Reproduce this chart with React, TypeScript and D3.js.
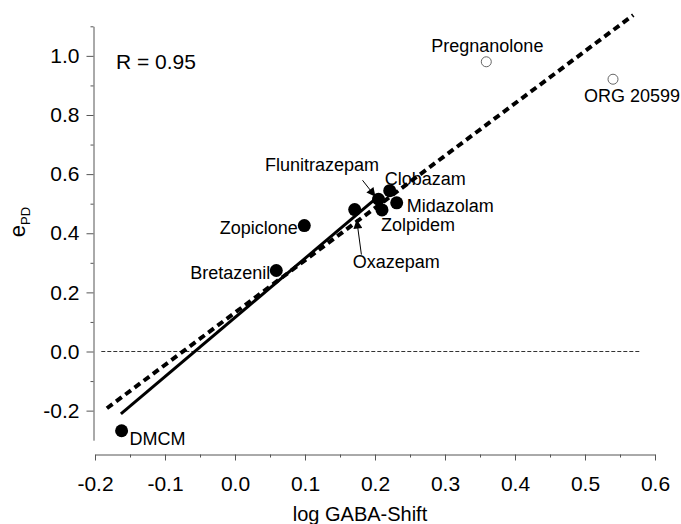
import * as d3 from 'd3';
import React, { useRef, useEffect } from 'react';

const width = 681;
const height = 524;
const font = "'Liberation Sans', Arial, Helvetica, sans-serif";

// filled circles (benzodiazepine site ligands)
const drugs = ["DMCM", "Bretazenil", "Zopiclone", "Oxazepam", "Flunitrazepam", "Zolpidem", "Clobazam", "Midazolam"];
const logShift = [-0.162, 0.059, 0.099, 0.171, 0.205, 0.210, 0.221, 0.231];
const ePD = [-0.268, 0.274, 0.426, 0.480, 0.515, 0.479, 0.544, 0.503];

// open circles (steroids)
const steroids = ["Pregnanolone", "ORG 20599"];
const steroidShift = [0.359, 0.540];
const steroidEPD = [0.980, 0.921];

// regression lines, end points
const fitAllX = [-0.183, 0.569];
const fitAllY = [-0.192, 1.138];
const fitBzX = [-0.163, 0.204];
const fitBzY = [-0.211, 0.523];
const zeroLineX = [-0.191, 0.579];

const xTicks = [-0.2, -0.1, 0.0, 0.1, 0.2, 0.3, 0.4, 0.5, 0.6];
const xTickLabels = ["-0.2", "-0.1", "0.0", "0.1", "0.2", "0.3", "0.4", "0.5", "0.6"];
const xMinor = [-0.15, -0.05, 0.05, 0.15, 0.25, 0.35, 0.45, 0.55];
const yTicks = [-0.2, 0.0, 0.2, 0.4, 0.6, 0.8, 1.0];
const yTickLabels = ["-0.2", "0.0", "0.2", "0.4", "0.6", "0.8", "1.0"];
const yMinor = [-0.1, 0.1, 0.3, 0.5, 0.7, 0.9, 1.1];

// label placement relative to the point: dx, dy, anchor
const labelPos = {
    "DMCM": [8, 14, "start"],
    "Bretazenil": [-6, 8.5, "end"],
    "Zopiclone": [-6.5, 8.5, "end"],
    "Oxazepam": [-2, 58, "start"],
    "Flunitrazepam": [-113.5, -28, "start"],
    "Zolpidem": [-1, 21, "start"],
    "Clobazam": [-5, -5.5, "start"],
    "Midazolam": [10, 9.5, "start"],
    "Pregnanolone": [-55, -10, "start"],
    "ORG 20599": [-29, 22.5, "start"],
};
// arrows: tail and tip offsets from the point
const arrows = {
    "Oxazepam": { tail: [6.7, 45], tip: [2, 10] },
    "Flunitrazepam": { tail: [-16, -19], tip: [-3, -2.5] },
};

function App() {
    const ref = useRef();

    useEffect(() => {
        draw();
    });

    const draw = () => {
        const svg = d3.select(ref.current);
        svg.selectAll("*").remove();

        const x = d3.scaleLinear().domain([-0.2, 0.6]).range([95, 655]);
        const y = d3.scaleLinear().domain([-0.3, 1.1]).range([440.2, 26.3]);

        const axisColor = "#555";

        // y axis
        const yg = svg.append("g")
            .attr("transform", "translate(93.5,0)")
            .call(d3.axisLeft(y).tickValues(yTicks).tickSize(7).tickSizeOuter(0).tickPadding(7)
                .tickFormat((d, i) => yTickLabels[i]));
        yg.select(".domain").attr("stroke", axisColor);
        yg.selectAll(".tick line").attr("stroke", axisColor);
        yg.selectAll("text").style("font-family", font).style("font-size", "21px").attr("fill", "#000");
        svg.append("g")
            .attr("transform", "translate(93.5,0)")
            .call(d3.axisLeft(y).tickValues(yMinor).tickSize(3).tickFormat(""))
            .call(g => g.select(".domain").remove())
            .selectAll(".tick line").attr("stroke", axisColor);

        // x axis
        const xg = svg.append("g")
            .attr("transform", "translate(0,454.5)")
            .call(d3.axisBottom(x).tickValues(xTicks).tickSize(6).tickSizeOuter(0).tickPadding(16)
                .tickFormat((d, i) => xTickLabels[i]));
        xg.select(".domain").attr("stroke", axisColor);
        xg.selectAll(".tick line").attr("stroke", axisColor);
        xg.selectAll("text").style("font-family", font).style("font-size", "21px").attr("fill", "#000");
        svg.append("g")
            .attr("transform", "translate(0,454.5)")
            .call(d3.axisBottom(x).tickValues(xMinor).tickSize(3).tickFormat(""))
            .call(g => g.select(".domain").remove())
            .selectAll(".tick line").attr("stroke", axisColor);

        // axis titles
        svg.append("text")
            .attr("x", 360).attr("y", 521)
            .attr("text-anchor", "middle")
            .style("font-family", font).style("font-size", "20px")
            .text("log GABA-Shift");

        const yt = svg.append("text")
            .attr("transform", "translate(25,222) rotate(-90)")
            .attr("text-anchor", "middle")
            .style("font-family", font);
        yt.append("tspan").style("font-size", "22px").text("e");
        yt.append("tspan").style("font-size", "13px").attr("dy", 5).text("PD");

        svg.append("text")
            .attr("x", 116).attr("y", 69)
            .style("font-family", font).style("font-size", "21px")
            .text("R = 0.95");

        // zero line
        svg.append("line")
            .attr("x1", x(zeroLineX[0])).attr("x2", x(zeroLineX[1]))
            .attr("y1", y(0)).attr("y2", y(0))
            .attr("stroke", "#333").attr("stroke-width", 1)
            .attr("stroke-dasharray", "4,2");

        const line = d3.line().x(d => x(d[0])).y(d => y(d[1]));

        // regression lines
        svg.append("path")
            .attr("d", line(d3.zip(fitAllX, fitAllY)))
            .attr("fill", "none").attr("stroke", "#000")
            .attr("stroke-width", 4).attr("stroke-dasharray", "7,4.5");
        svg.append("path")
            .attr("d", line(d3.zip(fitBzX, fitBzY)))
            .attr("fill", "none").attr("stroke", "#000")
            .attr("stroke-width", 3);

        // points
        const filled = d3.zip(drugs, logShift, ePD);
        svg.append("g").selectAll("circle")
            .data(filled)
            .enter()
            .append("circle")
                .attr("cx", d => x(d[1]))
                .attr("cy", d => y(d[2]))
                .attr("r", 6.5)
                .attr("fill", "#000");

        const open = d3.zip(steroids, steroidShift, steroidEPD);
        svg.append("g").selectAll("circle")
            .data(open)
            .enter()
            .append("circle")
                .attr("cx", d => x(d[1]))
                .attr("cy", d => y(d[2]))
                .attr("r", 5)
                .attr("fill", "#fff")
                .attr("stroke", "#666")
                .attr("stroke-width", 1);

        // labels
        svg.append("g").selectAll("text")
            .data(filled.concat(open))
            .enter()
            .append("text")
                .attr("x", d => x(d[1]) + labelPos[d[0]][0])
                .attr("y", d => y(d[2]) + labelPos[d[0]][1])
                .attr("text-anchor", d => labelPos[d[0]][2])
                .style("font-family", font)
                .style("font-size", "18px")
                .text(d => d[0]);

        // arrows
        const defs = svg.append("defs");
        defs.append("marker")
            .attr("id", "arrowhead")
            .attr("viewBox", "0 0 10 10")
            .attr("refX", 10).attr("refY", 5)
            .attr("markerWidth", 14).attr("markerHeight", 9)
            .attr("markerUnits", "userSpaceOnUse")
            .attr("orient", "auto")
            .append("path")
                .attr("d", "M0,0 L10,5 L0,10 z")
                .attr("fill", "#000");

        filled.filter(d => arrows[d[0]]).forEach(d => {
            const a = arrows[d[0]];
            const px = x(d[1]), py = y(d[2]);
            svg.append("line")
                .attr("x1", px + a.tail[0]).attr("y1", py + a.tail[1])
                .attr("x2", px + a.tip[0]).attr("y2", py + a.tip[1])
                .attr("stroke", "#000").attr("stroke-width", 1)
                .attr("marker-end", "url(#arrowhead)");
        });
    }

    return (
        <div className="chart">
            <svg ref={ref} width={width} height={height}
                style={{ position: "absolute", left: 0, top: 0, background: "#fff" }}>
            </svg>
        </div>
    )
}

export default App;
